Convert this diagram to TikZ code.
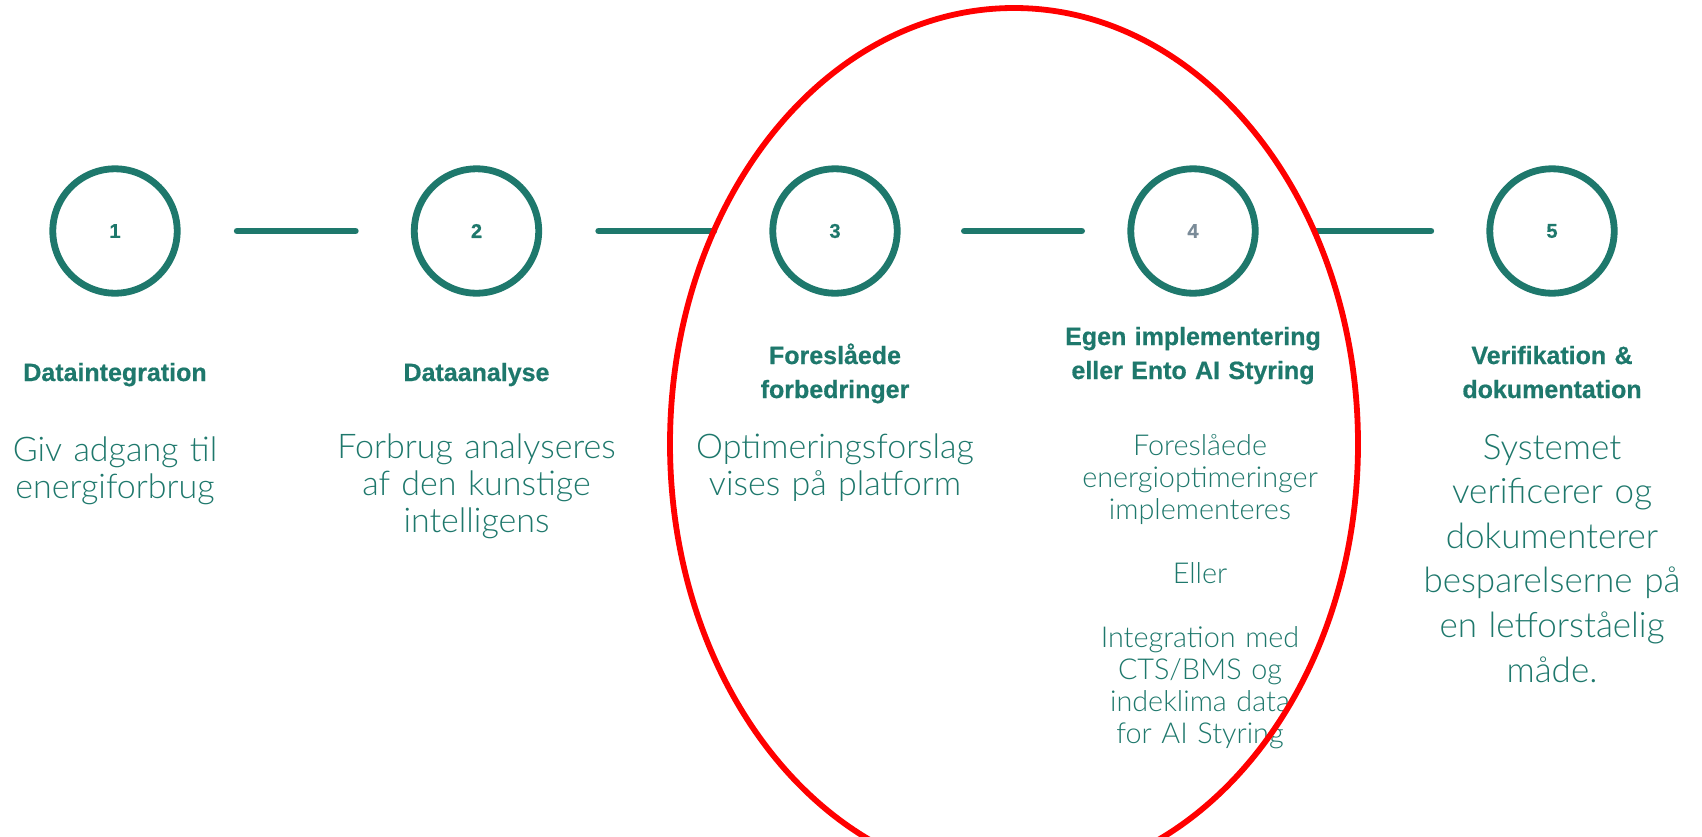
\documentclass[tikz,border=0pt]{standalone}
\usepackage{fontspec}
\newfontfamily\headfont{Liberation Sans}[BoldFeatures={FakeBold=0.6}]
\newfontfamily\bodyfont{Lato}[UprightFont=* Light]
\definecolor{entoteal}{HTML}{1E786C}
\definecolor{entogray}{HTML}{7A8B98}
\definecolor{markred}{HTML}{FF0000}

\begin{document}
\begin{tikzpicture}[x=0.5pt,y=-0.5pt,
  stepring/.style={circle, draw=entoteal, line width=3.4pt, minimum size=62.2pt,
    inner sep=0pt, outer sep=0pt, text=entoteal,
    font=\headfont\bfseries\fontsize{10pt}{12pt}\selectfont},
  link/.style={draw=entoteal, line width=3.4pt, line cap=round,
    shorten <=30pt, shorten >=29.5pt},
  heading/.style={anchor=base, inner sep=0pt, text width=180pt, align=center,
    text=entoteal, font=\headfont\bfseries\fontsize{12.5pt}{17pt}\selectfont},
  body/.style={anchor=base, inner sep=0pt, text width=180pt, align=center,
    text=entoteal, font=\bodyfont\fontsize{17pt}{18.5pt}\selectfont},
  smallbody/.style={body, font=\bodyfont\fontsize{14.4pt}{16pt}\selectfont},
  largebody/.style={body, font=\bodyfont\fontsize{17.5pt}{22.3pt}\selectfont},
]
\useasboundingbox[fill=white] (0,0) rectangle (1702,836);

% step rings
\node[stepring] (s1) at (115,231) {1};
\node[stepring] (s2) at (476.5,231) {2};
\node[stepring] (s3) at (835,231) {3};
\node[stepring, text=entogray] (s4) at (1193,231) {4};
\node[stepring] (s5) at (1552,231) {5};

% connectors between the rings
\draw[link] (s1) -- (s2);
\draw[link] (s2) -- (s3);
\draw[link, shorten <=33.6pt, shorten >=24.6pt] (s3) -- (s4);
\draw[link] (s4) -- (s5);

% headings
\node[heading] (h1) at (115,381) {Dataintegration};
\node[heading] (h2) at (476.5,381) {Dataanalyse};
\node[heading] (h3) at (835,364) {Foreslåede\\forbedringer};
\node[heading] (h4) at (1193,345) {Egen implementering\\eller Ento AI Styring};
\node[heading] (h5) at (1552,364) {Verifikation \&\\dokumentation};

% descriptions
\node[body] (b1) at (115,461) {Giv adgang til\\energiforbrug};
\node[body] (b2) at (476.5,458) {Forbrug analyseres\\af den kunstige\\intelligens};
\node[body] (b3) at (835,458) {Optimeringsforslag\\vises på platform};
\node[smallbody] (b4) at (1200,455) {Foreslåede\\energioptimeringer\\implementeres\\[16pt]Eller\\[16pt]Integration med\\CTS/BMS og\\indeklima data\\for AI Styring};
\node[largebody] (b5) at (1552,459) {Systemet\\verificerer og\\dokumenterer\\besparelserne på\\en letforståelig\\måde.};

% highlight around steps 3 and 4
\draw[markred, line width=2.9pt] (1014,444) ellipse [x radius=172pt, y radius=218pt];
\end{tikzpicture}
\end{document}
